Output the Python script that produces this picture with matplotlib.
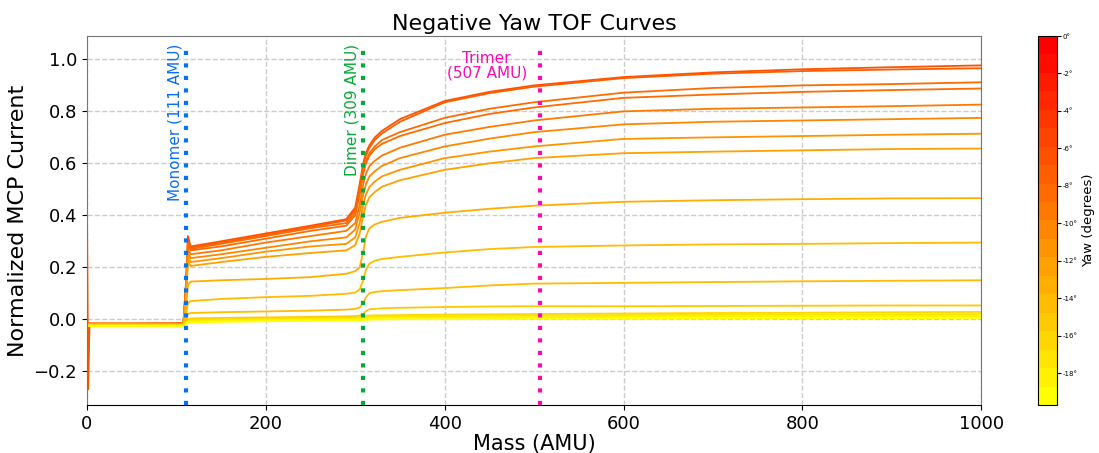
import matplotlib
matplotlib.use("Agg")
import matplotlib.pyplot as plt
import numpy as np
from matplotlib.colors import Normalize
from matplotlib.cm import ScalarMappable

# mass grid (AMU) shared by all curves
mass = [0, 1.5, 3, 100, 108, 111, 113, 116, 150, 200, 250, 290, 300, 305, 309,
        312, 316, 322, 330, 350, 400, 450, 500, 600, 700, 800, 900, 1000]

# yaw angle of each curve (degrees)
yaws = [-6.5, -7.2, -7.9, -8.6, -9.3, -10.2, -11.1, -12.0,
        -13.0, -13.8, -14.5, -15.2, -16.2, -17.2, -18.2, -19.2]

# normalized MCP current for each curve, on the mass grid
curves = [
    [0.52, -0.27, -0.02, -0.016, -0.015, 0.15, 0.32, 0.28, 0.30, 0.33, 0.36, 0.385, 0.43, 0.52, 0.60,
     0.64, 0.67, 0.70, 0.725, 0.77, 0.84, 0.875, 0.90, 0.932, 0.95, 0.962, 0.97, 0.977],
    [-0.016, -0.016, -0.016, -0.016, -0.015, 0.14, 0.30, 0.275, 0.295, 0.325, 0.355, 0.38, 0.42, 0.51, 0.59,
     0.63, 0.66, 0.69, 0.715, 0.76, 0.835, 0.87, 0.895, 0.928, 0.945, 0.955, 0.961, 0.966],
    [-0.017, -0.017, -0.017, -0.017, -0.016, 0.13, 0.29, 0.27, 0.29, 0.32, 0.35, 0.37, 0.41, 0.49, 0.57,
     0.61, 0.64, 0.665, 0.69, 0.72, 0.775, 0.81, 0.835, 0.872, 0.89, 0.90, 0.905, 0.912],
    [-0.017, -0.017, -0.017, -0.017, -0.016, 0.12, 0.28, 0.265, 0.28, 0.31, 0.34, 0.36, 0.40, 0.48, 0.56,
     0.60, 0.63, 0.655, 0.675, 0.705, 0.755, 0.79, 0.815, 0.852, 0.865, 0.875, 0.882, 0.888],
    [-0.018, -0.018, -0.018, -0.018, -0.017, 0.11, 0.27, 0.25, 0.265, 0.295, 0.32, 0.34, 0.37, 0.44, 0.52,
     0.56, 0.59, 0.61, 0.63, 0.66, 0.71, 0.74, 0.765, 0.80, 0.81, 0.815, 0.82, 0.826],
    [-0.018, -0.018, -0.018, -0.018, -0.017, 0.10, 0.255, 0.235, 0.25, 0.275, 0.30, 0.315, 0.345, 0.41, 0.48,
     0.52, 0.55, 0.57, 0.59, 0.62, 0.665, 0.695, 0.72, 0.75, 0.76, 0.765, 0.77, 0.775],
    [-0.019, -0.019, -0.019, -0.019, -0.018, 0.09, 0.24, 0.22, 0.235, 0.26, 0.28, 0.29, 0.315, 0.37, 0.44,
     0.48, 0.51, 0.53, 0.55, 0.575, 0.62, 0.645, 0.665, 0.694, 0.70, 0.705, 0.71, 0.714],
    [-0.019, -0.019, -0.019, -0.019, -0.018, 0.08, 0.225, 0.205, 0.22, 0.24, 0.255, 0.265, 0.285, 0.33, 0.40,
     0.44, 0.47, 0.49, 0.51, 0.535, 0.575, 0.60, 0.62, 0.639, 0.645, 0.65, 0.655, 0.657],
    [-0.02, -0.02, -0.02, -0.02, -0.019, 0.05, 0.13, 0.145, 0.15, 0.155, 0.162, 0.175, 0.185, 0.20, 0.26,
     0.32, 0.35, 0.365, 0.375, 0.39, 0.41, 0.425, 0.437, 0.452, 0.458, 0.462, 0.465, 0.466],
    [-0.021, -0.021, -0.021, -0.021, -0.02, 0.02, 0.06, 0.07, 0.078, 0.085, 0.09, 0.098, 0.103, 0.115, 0.15,
     0.19, 0.215, 0.225, 0.232, 0.24, 0.257, 0.27, 0.278, 0.284, 0.288, 0.29, 0.293, 0.295],
    [-0.022, -0.022, -0.022, -0.022, -0.021, 0.0, 0.02, 0.024, 0.027, 0.03, 0.033, 0.037, 0.04, 0.045, 0.06,
     0.085, 0.10, 0.105, 0.108, 0.112, 0.12, 0.13, 0.137, 0.14, 0.143, 0.146, 0.148, 0.15],
    [-0.022, -0.022, -0.022, -0.022, -0.021, -0.01, 0.0, 0.003, 0.005, 0.007, 0.009, 0.011, 0.012, 0.014, 0.02,
     0.032, 0.038, 0.04, 0.042, 0.044, 0.047, 0.049, 0.05, 0.05, 0.051, 0.052, 0.053, 0.053],
    [-0.023, -0.023, -0.023, -0.023, -0.022, -0.012, -0.004, -0.002, 0.0, 0.003, 0.005, 0.006, 0.007, 0.008, 0.01,
     0.012, 0.014, 0.015, 0.015, 0.016, 0.018, 0.019, 0.02, 0.022, 0.024, 0.025, 0.027, 0.028],
    [-0.024, -0.024, -0.024, -0.024, -0.023, -0.014, -0.006, -0.004, -0.002, 0.0, 0.002, 0.004, 0.004, 0.005, 0.006,
     0.008, 0.009, 0.01, 0.01, 0.011, 0.012, 0.013, 0.014, 0.016, 0.017, 0.018, 0.019, 0.02],
    [-0.025, -0.025, -0.025, -0.025, -0.024, -0.016, -0.01, -0.008, -0.006, -0.004, -0.002, 0.0, 0.0, 0.001, 0.002,
     0.003, 0.004, 0.004, 0.005, 0.005, 0.006, 0.007, 0.008, 0.009, 0.01, 0.011, 0.012, 0.012],
    [-0.026, -0.026, -0.026, -0.026, -0.025, -0.018, -0.013, -0.012, -0.01, -0.008, -0.006, -0.005, -0.004, -0.004, -0.003,
     -0.002, -0.002, -0.001, -0.001, 0.0, 0.0, 0.001, 0.002, 0.002, 0.003, 0.004, 0.004, 0.005],
]

# species markers
markers = [
    ("Monomer (111 AMU)", 111, "#0a6ff0"),
    ("Dimer (309 AMU)", 309, "#08a83a"),
    ("Trimer\n(507 AMU)", 507, "#f80cb0"),
]

cbar_ticks = [0, -2, -4, -6, -8, -10, -12, -14, -16, -18]

fig = plt.figure(figsize=(10.99, 4.53), dpi=100)
ax = fig.add_axes([0.079, 0.106, 0.814, 0.8145])
cax = fig.add_axes([0.9445, 0.106, 0.0173, 0.8145])

cmap = plt.get_cmap("autumn_r", 20)
norm = Normalize(vmin=-19.7, vmax=0)

for yaw, vals in zip(yaws, curves):
    ax.plot(mass, vals, color=cmap(norm(yaw)), lw=1.3)

for label, m, col in markers:
    ax.axvline(m, ymax=0.98, color=col, lw=3, linestyle=(0, (1, 2)), zorder=3)

ax.text(99, 1.06, markers[0][0], color=markers[0][2], rotation=90,
        ha="center", va="top", fontsize=11)
ax.text(296, 1.06, markers[1][0], color=markers[1][2], rotation=90,
        ha="center", va="top", fontsize=11)
ax.text(447, 0.975, markers[2][0], color=markers[2][2],
        ha="center", va="center", fontsize=11, linespacing=1.0)

ax.set_xlim(0, 1000)
ax.set_ylim(-0.33, 1.09)
ax.set_xticks([0, 200, 400, 600, 800, 1000])
ax.set_yticks([-0.2, 0.0, 0.2, 0.4, 0.6, 0.8, 1.0])
ax.tick_params(labelsize=13)
ax.grid(True, linestyle="--", color="#cccccc", lw=1)
ax.set_axisbelow(True)
for side in ["top", "right", "left"]:
    ax.spines[side].set_color("#777777")
ax.set_xlabel("Mass (AMU)", fontsize=15, labelpad=1)
ax.set_ylabel("Normalized MCP Current", fontsize=16)
ax.set_title("Negative Yaw TOF Curves", fontsize=16, pad=4)

sm = ScalarMappable(norm=norm, cmap=cmap)
cb = fig.colorbar(sm, cax=cax)
cb.set_ticks(cbar_ticks)
cb.set_ticklabels([f"{t}\u00b0" for t in cbar_ticks])
cb.ax.tick_params(labelsize=5, length=3, pad=1)
cb.set_label("Yaw (degrees)", fontsize=9.5, labelpad=3)

fig.savefig("out.png", dpi=100)
